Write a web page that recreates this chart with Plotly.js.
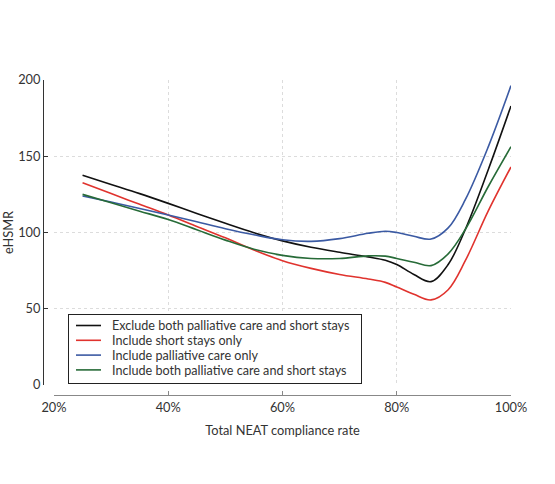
<!DOCTYPE html>
<html>
<head>
<meta charset="utf-8">
<script src="https://cdn.plot.ly/plotly-3.0.1.min.js"></script>
<style>html,body{margin:0;padding:0;background:#fff;}#chart{width:555px;height:484px;}</style>
</head>
<body>
<div id="chart"></div>
<script>
const compliance = [25, 30, 35, 40, 45, 50, 55, 60, 65, 70, 75, 78, 80, 83, 86, 89, 92, 96, 100];
const excludeBoth = [137.5, 131.5, 125.5, 119.1, 112.5, 106, 99.8, 94.5, 90.3, 87, 84, 81.8, 79, 72.5, 67.8, 79, 102, 141, 183];
const shortStaysOnly = [132.7, 125.5, 118.5, 111.5, 104, 96.5, 88.5, 81.5, 76.5, 72.5, 69.5, 67.3, 64.3, 59.5, 55.8, 62.5, 81.5, 114, 143];
const palliativeOnly = [124, 120, 115.8, 111.5, 107, 102.5, 98.5, 95.2, 94.2, 96, 99.5, 100.8, 100, 97.5, 95.7, 103, 121.5, 156, 196.3];
const includeBoth = [125, 119.5, 114, 108.5, 101.8, 95, 89, 85, 83, 83, 84.7, 84.5, 83, 80.5, 78.3, 86, 102, 130, 156.3];
const seriesNames = [
  'Exclude both palliative care and short stays',
  'Include short stays only',
  'Include palliative care only',
  'Include both palliative care and short stays'
];
const seriesColors = ['#111111', '#e0332e', '#3b5aa3', '#276b38'];
const seriesValues = [excludeBoth, shortStaysOnly, palliativeOnly, includeBoth];
const xTickVals = [20, 40, 60, 80, 100];
const xTickText = ['20%', '40%', '60%', '80%', '100%'];
const yTickVals = [0, 50, 100, 150, 200];

const traces = seriesValues.map((vals, i) => ({
  x: compliance,
  y: vals,
  type: 'scatter',
  mode: 'lines',
  name: seriesNames[i],
  line: {color: seriesColors[i], width: 1.6, shape: 'spline', smoothing: 1}
}));

const fam = 'Lato, "Open Sans", sans-serif';
const font = {family: fam, size: 12.8, color: '#333'};

const layout = {
  width: 555, height: 484,
  margin: {l: 43, r: 44, t: 80, b: 89},
  paper_bgcolor: '#fff', plot_bgcolor: '#fff',
  font: font,
  showlegend: true,
  legend: {
    x: 0.053, y: 0.25, xanchor: 'left', yanchor: 'top',
    bordercolor: '#222', borderwidth: 1, bgcolor: '#fff',
    font: {family: fam, size: 12.6, color: '#333'},
    tracegroupgap: 0, itemwidth: 30
  },
  xaxis: {
    domain: [0.0235, 1],
    range: [20, 100],
    anchor: 'free', position: 0,
    tickvals: xTickVals, ticktext: xTickText,
    ticks: 'inside', ticklen: 4, tickcolor: '#888',
    showline: true, linecolor: '#888', linewidth: 1.2,
    showgrid: true, gridcolor: '#dcdcdc', griddash: 'dot', gridwidth: 1,
    zeroline: false,
    title: {text: 'Total NEAT compliance rate', font: font, standoff: 12}
  },
  yaxis: {
    domain: [0.0317, 1],
    range: [0, 200],
    anchor: 'free', position: 0,
    tickvals: yTickVals,
    ticks: 'inside', ticklen: 4, tickcolor: '#333',
    showline: true, linecolor: '#333', linewidth: 1.2,
    showgrid: true, gridcolor: '#dcdcdc', griddash: 'dot', gridwidth: 1,
    zeroline: false,
    title: {text: 'eHSMR', font: font, standoff: 5}
  }
};

function compactLegend() {
  const gd = document.getElementById('chart');
  const leg = gd.querySelector('g.legend');
  if (!leg) return;
  // legend box: left 68, top 314, width 293, height 69 (in page pixels)
  leg.setAttribute('transform', 'translate(68,314)');
  const bg = leg.querySelector('rect.bg');
  if (bg) {
    bg.setAttribute('width', 293);
    bg.setAttribute('height', 69);
    bg.setAttribute('x', 0.5);
    bg.setAttribute('y', 0.5);
  }
  const sb = leg.querySelector('g.scrollbox');
  if (sb) sb.setAttribute('transform', 'translate(0,0)');
  const groups = leg.querySelectorAll('g.groups');
  groups.forEach(g => g.setAttribute('transform', 'translate(0,0)'));
  const items = leg.querySelectorAll('g.traces');
  items.forEach((it, i) => {
    it.setAttribute('transform', 'translate(0,' + (11.5 + i * 14.8) + ')');
    it.querySelectorAll('.legendlines path').forEach(p => p.setAttribute('d', 'M8,0h25'));
    const t = it.querySelector('text.legendtext');
    if (t) t.setAttribute('x', 44);
  });
  const clip = gd.querySelector('clipPath[id*="legend"] rect');
  if (clip) { clip.setAttribute('width', 293); clip.setAttribute('height', 69); clip.setAttribute('x', 0); clip.setAttribute('y', 0); }
}

Plotly.newPlot('chart', traces, layout, {displayModeBar: false, staticPlot: true}).then(compactLegend);
</script>
</body>
</html>
